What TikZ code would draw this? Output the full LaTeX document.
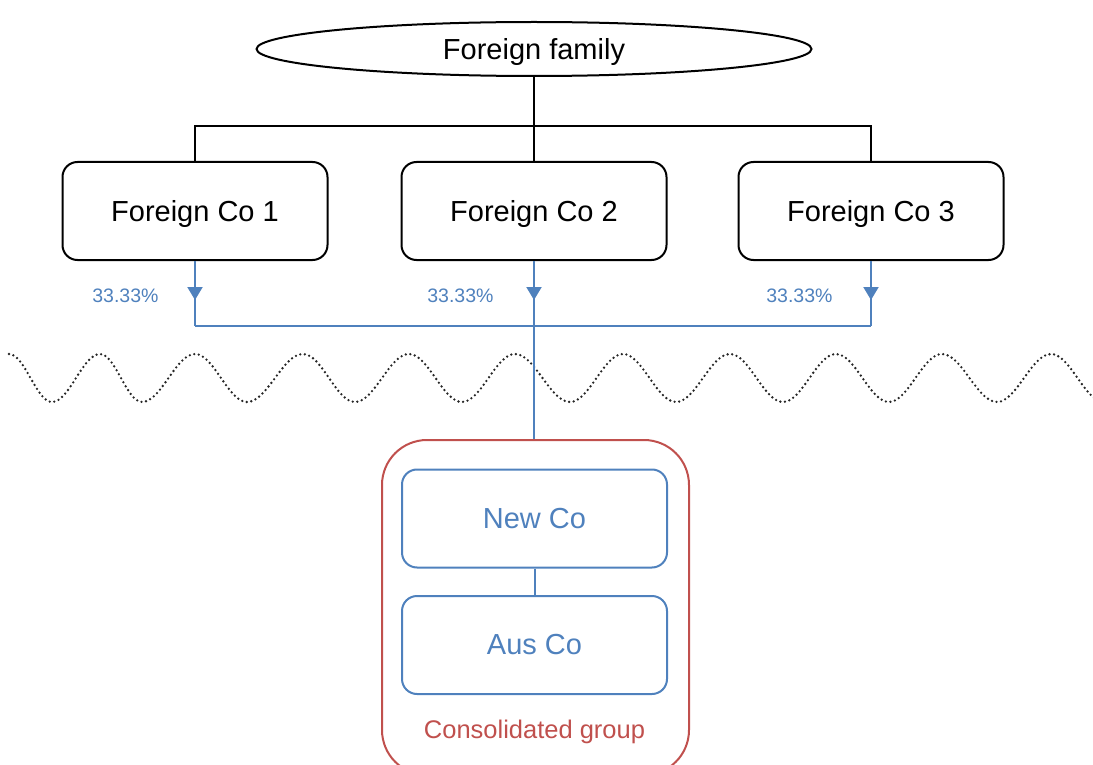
\documentclass[tikz,border=0pt]{standalone}
\usepackage{fontspec}
\setmainfont{Liberation Sans}
\usepackage{tikz}
\usetikzlibrary{arrows.meta,calc,decorations.markings,positioning,shapes.geometric}
\definecolor{ofblue}{HTML}{4F81BD}
\definecolor{ofred}{HTML}{C0504D}

\begin{document}
\begin{tikzpicture}[x=1pt,y=-1pt,
  famnode/.style={ellipse,draw,line width=2pt,minimum width=555pt,minimum height=54pt,
    text depth=1pt,font=\fontsize{29}{34}\selectfont},
  cobox/.style={rectangle,rounded corners=15pt,draw,line width=2pt,minimum width=265pt,
    minimum height=98pt,text depth=1pt,font=\fontsize{29}{34}\selectfont},
  subbox/.style={cobox,draw=ofblue,text=ofblue},
  consbox/.style={rectangle,rounded corners=45pt,draw=ofred,line width=2pt,
    minimum width=307pt,minimum height=335pt},
  conslabel/.style={text=ofred,text depth=1pt,font=\fontsize{25.5}{30}\selectfont},
  pct/.style={text=ofblue,font=\fontsize{19.5}{23}\selectfont},
  blackline/.style={draw,line width=2pt},
  blueline/.style={draw=ofblue,line width=2pt},
  pctarrow/.style={blueline,postaction={decorate},decoration={markings,
    mark=at position #1 with {\arrow{Triangle[width=15pt,length=13pt]}}}},
  wave/.style={draw=black!85,line width=2.6pt,dash pattern=on 0pt off 4.6pt,line cap=round}]
\useasboundingbox (0,0) rectangle (1093,765);

% owners
\node[famnode] (fam) at (534,49) {Foreign family};
\node[cobox] (fc1) at (195,211) {Foreign Co 1};
\node[cobox] (fc2) at (534,211) {Foreign Co 2};
\node[cobox] (fc3) at (871,211) {Foreign Co 3};

\draw[blackline] (fam.south) -- (fc2.north);
\draw[blackline] (fc1.north) -- ++(0,-35) -| (fc3.north);

% shareholdings
\coordinate (j1) at (195,326);
\coordinate (j2) at (534,326);
\coordinate (j3) at (871,326);
\coordinate (t1) at (195,296);
\coordinate (t2) at (534,296);
\coordinate (t3) at (871,296);

\draw[pctarrow=0.6] (fc1.south) -- (j1);
\draw[pctarrow=0.6] (fc2.south) -- (j2);
\draw[pctarrow=0.6] (fc3.south) -- (j3);
\draw[blueline] (j1) -- (j3);

\node[pct,left=33pt of t1] (p1) {33.33\%};
\node[pct,left=37pt of t2] (p2) {33.33\%};
\node[pct,left=35pt of t3] (p3) {33.33\%};

% border
\draw[wave] (9,354) cos (30.5,378) sin (52,402) cos (76,378) sin (100,354)
  cos (121,378) sin (142,402) cos (168.5,378) sin (195,354) cos (221,378) sin (247,402)
  cos (275,378) sin (303,354) cos (329,378) sin (355,402) cos (382,378) sin (409,354)
  cos (435.5,378) sin (462,402) cos (488.5,378) sin (515,354) cos (542.5,378) sin (570,402)
  cos (596.5,378) sin (623,354) cos (649.5,378) sin (676,402) cos (703,378) sin (730,354)
  cos (756.5,378) sin (783,402) cos (809.5,378) sin (836,354) cos (862.5,378) sin (889,402)
  cos (915.5,378) sin (942,354) cos (969.5,378) sin (997,402) cos (1024,378) sin (1051,354)
  cos (1077.5,378) sin (1104,402);

% consolidated group
\node[consbox] (grp) at (535.5,607.5) {};
\node[subbox] (newco) at (534.5,518.5) {New Co};
\node[subbox] (ausco) at (534.5,645) {Aus Co};
\node[conslabel] (grplabel) at (534.5,730) {Consolidated group};

\draw[blueline] (j2) -- (grp.north -| j2);
\draw[blueline] (newco.south) -- (ausco.north);
\end{tikzpicture}
\end{document}
